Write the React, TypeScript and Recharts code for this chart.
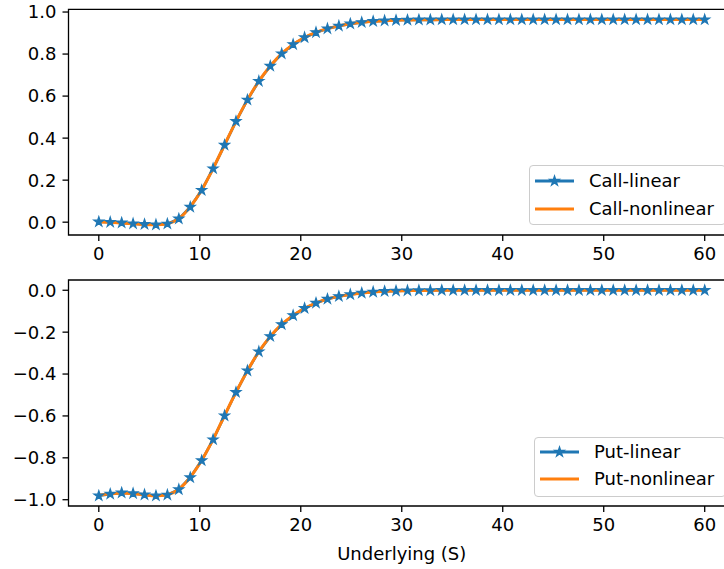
import React from 'react';
import { LineChart, Line, XAxis, YAxis, Legend, ReferenceArea, Label } from 'recharts';

// Underlying price grid (54 points from 0 to 60)
const S = [
  0, 1.132, 2.264, 3.396, 4.528, 5.66, 6.792, 7.925, 9.057, 10.189,
  11.321, 12.453, 13.585, 14.717, 15.849, 16.981, 18.113, 19.245, 20.377, 21.509,
  22.642, 23.774, 24.906, 26.038, 27.17, 28.302, 29.434, 30.566, 31.698, 32.83,
  33.962, 35.094, 36.226, 37.358, 38.491, 39.623, 40.755, 41.887, 43.019, 44.151,
  45.283, 46.415, 47.547, 48.679, 49.811, 50.943, 52.075, 53.208, 54.34, 55.472,
  56.604, 57.736, 58.868, 60,
];

const callLinear = [
  0.002, 0.0, -0.003, -0.007, -0.01, -0.012, -0.008, 0.016, 0.072, 0.152,
  0.255, 0.367, 0.48, 0.582, 0.671, 0.743, 0.802, 0.846, 0.879, 0.903,
  0.921, 0.934, 0.944, 0.951, 0.956, 0.959, 0.961, 0.962, 0.963, 0.963,
  0.964, 0.964, 0.964, 0.964, 0.964, 0.964, 0.964, 0.964, 0.964, 0.964,
  0.964, 0.964, 0.964, 0.964, 0.964, 0.964, 0.964, 0.964, 0.964, 0.964,
  0.964, 0.964, 0.964, 0.964,
];

const callNonlinear = [
  0.001, 0.0, -0.004, -0.008, -0.011, -0.012, -0.007, 0.017, 0.073, 0.153,
  0.256, 0.368, 0.48, 0.582, 0.671, 0.743, 0.802, 0.846, 0.879, 0.903,
  0.921, 0.934, 0.944, 0.951, 0.956, 0.959, 0.961, 0.962, 0.963, 0.963,
  0.964, 0.964, 0.964, 0.964, 0.964, 0.964, 0.964, 0.964, 0.964, 0.964,
  0.964, 0.964, 0.964, 0.964, 0.964, 0.964, 0.964, 0.964, 0.964, 0.964,
  0.964, 0.964, 0.964, 0.964,
];

const putLinear = [
  -0.981, -0.973, -0.967, -0.97, -0.976, -0.981, -0.977, -0.951, -0.894, -0.813,
  -0.713, -0.599, -0.487, -0.384, -0.293, -0.22, -0.163, -0.12, -0.086, -0.061,
  -0.042, -0.029, -0.02, -0.013, -0.008, -0.005, -0.003, -0.002, -0.001, -0.001,
  0, 0, 0, 0, 0, 0, 0, 0, 0, 0,
  0, 0, 0, 0, 0, 0, 0, 0, 0, 0,
  0, 0, 0, 0,
];

const putNonlinear = [
  -0.979, -0.972, -0.968, -0.971, -0.977, -0.981, -0.976, -0.95, -0.893, -0.812,
  -0.712, -0.598, -0.487, -0.384, -0.293, -0.22, -0.163, -0.12, -0.086, -0.061,
  -0.042, -0.029, -0.02, -0.013, -0.008, -0.005, -0.003, -0.002, -0.001, -0.001,
  0, 0, 0, 0, 0, 0, 0, 0, 0, 0,
  0, 0, 0, 0, 0, 0, 0, 0, 0, 0,
  0, 0, 0, 0,
];

const xTicks = [0, 10, 20, 30, 40, 50, 60];
const callTicks = [0, 0.2, 0.4, 0.6, 0.8, 1.0];
const putTicks = [-1.0, -0.8, -0.6, -0.4, -0.2, 0.0];

const xDomain: [number, number] = [-3, 63];
const callDomain: [number, number] = [-0.061, 1.013];
const putDomain: [number, number] = [-1.03, 0.049];

const data = S.map((s, i) => ({
  S: s,
  callLinear: callLinear[i],
  callNonlinear: callNonlinear[i],
  putLinear: putLinear[i],
  putNonlinear: putNonlinear[i],
}));

const BLUE = '#1f77b4';
const ORANGE = '#ff7f0e';
const FONT = '"DejaVu Sans", Verdana, sans-serif';
const FS = 18;
const STAR_R = 5.0;

function starPoints(cx: number, cy: number, R: number): string {
  const r = R * 0.381966;
  const pts: string[] = [];
  for (let k = 0; k < 10; k++) {
    const a = ((-90 + k * 36) * Math.PI) / 180;
    const rad = k % 2 === 0 ? R : r;
    pts.push(`${(cx + rad * Math.cos(a)).toFixed(2)},${(cy + rad * Math.sin(a)).toFixed(2)}`);
  }
  return pts.join(' ');
}

const StarDot = (props: any) => {
  const { cx, cy, index } = props;
  if (cx == null || cy == null) return null;
  return (
    <polygon
      key={`star-${index}`}
      points={starPoints(cx, cy, STAR_R)}
      fill={BLUE}
      stroke={BLUE}
      strokeWidth={1.3}
    />
  );
};

const fmtY = (v: number) => (v < -1e-9 ? '\u2212' : '') + Math.abs(v).toFixed(1);

const tickStyle = { fontSize: FS, fill: '#000', fontFamily: FONT };

type Entry = { label: string; color: string; star: boolean };

const makeLegend = (entries: Entry[], rows: number[], w: number) => () => (
  <div
    style={{
      position: 'relative',
      width: w,
      height: 60,
      boxSizing: 'border-box',
      border: '1.4px solid #cccccc',
      borderRadius: 4,
      background: 'rgba(255,255,255,0.8)',
      fontFamily: FONT,
      fontSize: FS,
      color: '#000',
    }}
  >
    {entries.map((e, i) => (
      <div key={e.label} style={{ position: 'absolute', left: 0, top: rows[i] - 12, height: 24, width: w }}>
        <svg width={50} height={24} style={{ position: 'absolute', left: 5, top: 0 }}>
          <line x1={0} y1={12} x2={39} y2={12} stroke={e.color} strokeWidth={2.8} />
          {e.star && <polygon points={starPoints(19.5, 12, STAR_R)} fill={e.color} stroke={e.color} strokeWidth={1.3} />}
        </svg>
        <span style={{ position: 'absolute', left: 59, top: 0, lineHeight: '24px', whiteSpace: 'nowrap' }}>{e.label}</span>
      </div>
    ))}
  </div>
);

const callLegend = makeLegend(
  [
    { label: 'Call-linear', color: BLUE, star: true },
    { label: 'Call-nonlinear', color: ORANGE, star: false },
  ],
  [15, 43],
  197
);

const putLegend = makeLegend(
  [
    { label: 'Put-linear', color: BLUE, star: true },
    { label: 'Put-nonlinear', color: ORANGE, star: false },
  ],
  [14, 41],
  192
);

export default function App() {
  return (
    <div
      style={{
        position: 'absolute',
        left: 0,
        top: 0,
        width: 724,
        height: 569,
        overflow: 'hidden',
        background: '#fff',
        fontFamily: FONT,
      }}
    >
      <div style={{ position: 'absolute', left: 0, top: 0 }}>
        <LineChart width={760} height={270} data={data} margin={{ top: 9.3, right: 25, bottom: 0, left: 0 }}>
          <XAxis
            dataKey="S"
            type="number"
            domain={xDomain}
            ticks={xTicks}
            allowDataOverflow
            height={35}
            axisLine={false}
            tickSize={6}
            tickMargin={6}
            tickLine={{ stroke: '#000', strokeWidth: 1.3 }}
            tick={tickStyle}
          />
          <YAxis
            type="number"
            domain={callDomain}
            ticks={callTicks}
            allowDataOverflow
            width={68.5}
            axisLine={false}
            tickSize={6}
            tickMargin={6}
            tickLine={{ stroke: '#000', strokeWidth: 1.3 }}
            tick={tickStyle}
            tickFormatter={fmtY}
          />
          <Line
            dataKey="callLinear"
            name="Call-linear"
            type="linear"
            stroke={BLUE}
            strokeWidth={2.7}
            dot={StarDot}
            activeDot={false}
            isAnimationActive={false}
          />
          <Line
            dataKey="callNonlinear"
            name="Call-nonlinear"
            type="monotone"
            stroke={ORANGE}
            strokeWidth={3}
            dot={false}
            activeDot={false}
            isAnimationActive={false}
          />
          <ReferenceArea
            x1={xDomain[0]}
            x2={xDomain[1]}
            y1={callDomain[0]}
            y2={callDomain[1]}
            fill="none"
            fillOpacity={0}
            stroke="#000"
            strokeWidth={1.3}
            ifOverflow="visible"
          />
          <Legend
            layout="horizontal"
            verticalAlign="middle"
            align="center"
            content={callLegend}
            wrapperStyle={{ position: 'absolute', left: 529, top: 165, width: 197, height: 60 }}
          />
        </LineChart>
      </div>
      <div style={{ position: 'absolute', left: 0, top: 270 }}>
        <LineChart width={760} height={299} data={data} margin={{ top: 10, right: 25, bottom: 0, left: 0 }}>
          <XAxis
            dataKey="S"
            type="number"
            domain={xDomain}
            ticks={xTicks}
            allowDataOverflow
            height={63}
            axisLine={false}
            tickSize={6}
            tickMargin={6}
            tickLine={{ stroke: '#000', strokeWidth: 1.3 }}
            tick={tickStyle}
          >
            <Label
              value="Underlying (S)"
              position="insideBottom"
              offset={9}
              style={{ fontSize: FS, fill: '#000', fontFamily: FONT }}
            />
          </XAxis>
          <YAxis
            type="number"
            domain={putDomain}
            ticks={putTicks}
            allowDataOverflow
            width={68.5}
            axisLine={false}
            tickSize={6}
            tickMargin={6}
            tickLine={{ stroke: '#000', strokeWidth: 1.3 }}
            tick={tickStyle}
            tickFormatter={fmtY}
          />
          <Line
            dataKey="putLinear"
            name="Put-linear"
            type="linear"
            stroke={BLUE}
            strokeWidth={2.7}
            dot={StarDot}
            activeDot={false}
            isAnimationActive={false}
          />
          <Line
            dataKey="putNonlinear"
            name="Put-nonlinear"
            type="monotone"
            stroke={ORANGE}
            strokeWidth={3}
            dot={false}
            activeDot={false}
            isAnimationActive={false}
          />
          <ReferenceArea
            x1={xDomain[0]}
            x2={xDomain[1]}
            y1={putDomain[0]}
            y2={putDomain[1]}
            fill="none"
            fillOpacity={0}
            stroke="#000"
            strokeWidth={1.3}
            ifOverflow="visible"
          />
          <Legend
            layout="horizontal"
            verticalAlign="middle"
            align="center"
            content={putLegend}
            wrapperStyle={{ position: 'absolute', left: 534, top: 167, width: 192, height: 60 }}
          />
        </LineChart>
      </div>
    </div>
  );
}
